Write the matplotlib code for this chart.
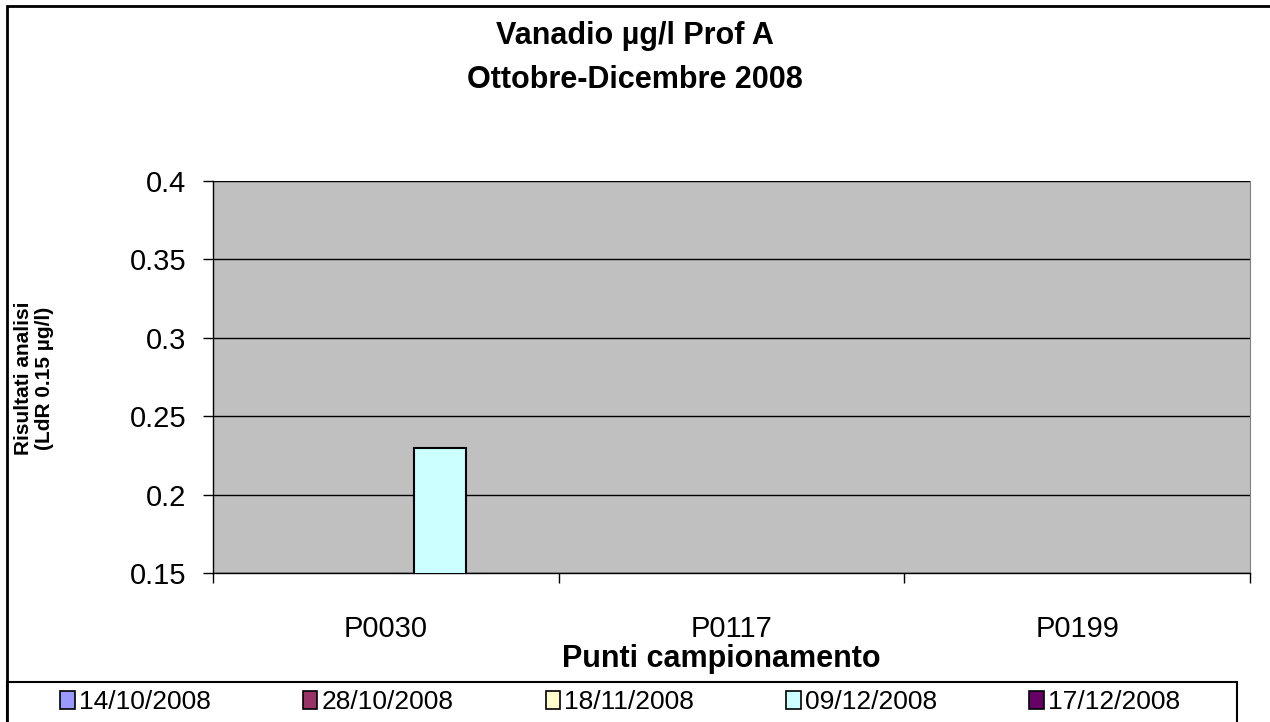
import matplotlib.pyplot as plt
import numpy as np
from matplotlib.patches import Patch, Rectangle

plt.rcParams['font.family'] = ['Liberation Sans', 'DejaVu Sans']

points = ['P0030', 'P0117', 'P0199']
dates = ['14/10/2008', '28/10/2008', '18/11/2008', '09/12/2008', '17/12/2008']
colors = ['#9999FF', '#993366', '#FFFFCC', '#CCFFFF', '#660066']
# values per date, one per sampling point (nan = below LdR / missing)
values = [
    [np.nan, np.nan, np.nan],
    [np.nan, np.nan, np.nan],
    [np.nan, np.nan, np.nan],
    [0.23, np.nan, np.nan],
    [np.nan, np.nan, np.nan],
]
yticks = [0.15, 0.2, 0.25, 0.3, 0.35, 0.4]

W, H = 1270, 722
fig = plt.figure(figsize=(W / 100, H / 100), dpi=100)
ax = fig.add_axes([213 / W, 1 - 573 / H, (1250 - 213) / W, (573 - 181) / H])
ax.set_facecolor('#C0C0C0')

x = np.arange(len(points))
bw = 0.15
for i, (d, c, v) in enumerate(zip(dates, colors, values)):
    ax.bar(x + (i - 2) * bw + 0.006, v, width=bw, color=c, edgecolor='black',
           linewidth=1.5, label=d, zorder=3)

ax.set_ylim(0.15, 0.4)
ax.set_xlim(-0.5, 2.5)
ax.set_yticks(yticks)
ax.set_yticklabels(['0.15', '0.2', '0.25', '0.3', '0.35', '0.4'], fontsize=21)
ax.yaxis.grid(True, color='black', linewidth=1)
ax.set_axisbelow(True)
ax.set_xticks(x)
ax.set_xticklabels(points, fontsize=21)
ax.set_xticks([-0.5, 0.5, 1.5, 2.5], minor=True)
ax.tick_params(axis='x', which='major', length=0, pad=30)
ax.tick_params(axis='x', which='minor', length=7, width=1, direction='out')
ax.tick_params(axis='y', length=7, width=1, direction='out', pad=12)
ax.spines['top'].set_visible(False)
ax.spines['right'].set_color('#808080')
ax.spines['left'].set_linewidth(1)
ax.spines['bottom'].set_linewidth(1)

ax.set_xlabel('Punti campionamento', fontsize=22, fontweight='bold')
ax.xaxis.set_label_coords(0.49, (573 - 644) / 392)
fig.text(34 / W, 1 - 378 / H, 'Risultati analisi\n(LdR 0.15 µg/l)', rotation=90,
         ha='center', va='center', fontsize=15, fontweight='bold',
         multialignment='center', linespacing=1.15)
fig.text(635 / W, 1 - 58 / H, 'Vanadio µg/l Prof A\nOttobre-Dicembre 2008',
         ha='center', va='center', fontsize=22, fontweight='bold',
         linespacing=1.65)

# outer chart border
fig.patches.append(Rectangle((7 / W, -0.1), 1.2, 1 - 6 / H + 0.1,
                             transform=fig.transFigure, fill=False,
                             edgecolor='black', linewidth=2))
# legend box
fig.patches.append(Rectangle((7 / W, -0.1), (1237 - 7) / W, 1 - 682 / H + 0.1,
                             transform=fig.transFigure, fill=False,
                             edgecolor='black', linewidth=1.5))

handles = [Patch(facecolor=c, edgecolor='black', linewidth=1.2) for c in colors]
leg = fig.legend(handles, dates, loc='center', ncol=5,
                 bbox_to_anchor=(620 / W, 1 - 702 / H),
                 fontsize=19, frameon=False, handlelength=0.55,
                 handleheight=0.7, handletextpad=0.15, columnspacing=3.5,
                 borderaxespad=0, borderpad=0)

fig.savefig('out.png', dpi=100)
